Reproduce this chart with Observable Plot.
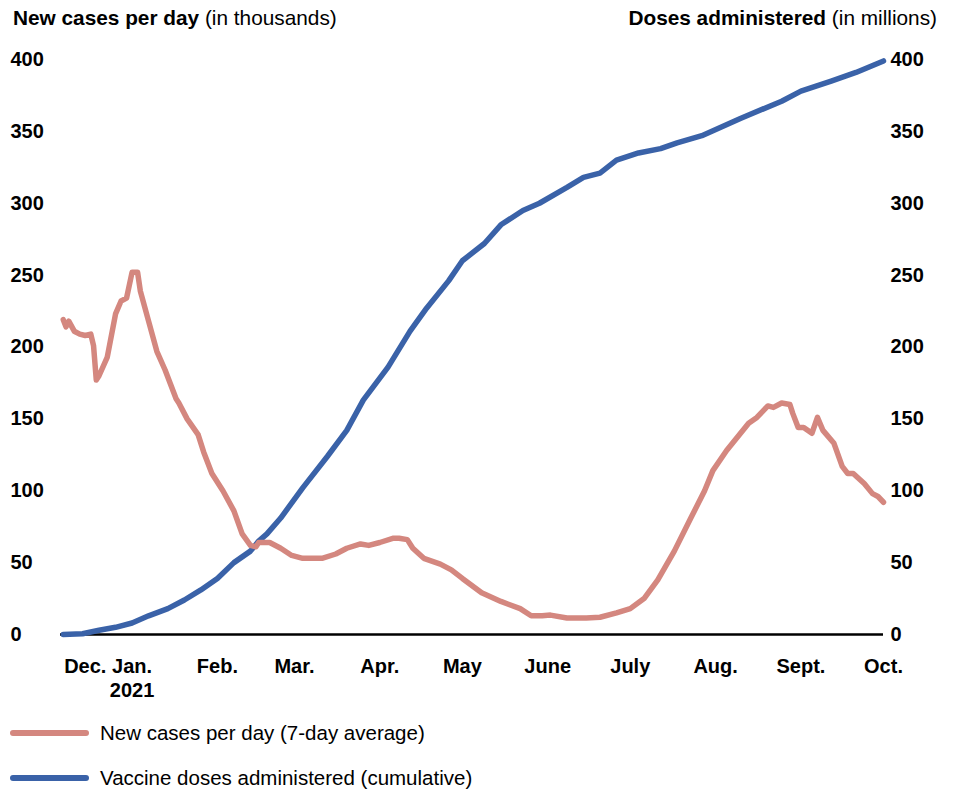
<!DOCTYPE html>
<html>
<head>
<meta charset="utf-8">
<script src="https://cdn.jsdelivr.net/npm/d3@7"></script>
<script src="https://cdn.jsdelivr.net/npm/@observablehq/plot@0.6"></script>
<style>
  body { margin: 0; background: #fff; font-family: "Liberation Sans", Arial, sans-serif; color: #000; }
  #wrap { position: relative; width: 956px; }
  .hdr { position: relative; height: 40px; font-size: 20.8px; }
  .hdr .l { position: absolute; left: 13px; top: 6px; }
  .hdr .r { position: absolute; right: 19px; top: 6px; }
  .legend { font-size: 20.5px; }
  .legend .row { display: flex; align-items: center; height: 45px; }
  .legend svg { display: block; }
  .legend span { margin-left: 10px; }
</style>
</head>
<body>
<div id="wrap">
  <div class="hdr">
    <div class="l"><b>New cases per day</b> (in thousands)</div>
    <div class="r"><b>Doses administered</b> (in millions)</div>
  </div>
  <div id="chart"></div>
  <div class="legend" id="legend"></div>
</div>
<script>
// New cases per day (7-day average), thousands
const caseDates = ["2020-12-07","2020-12-08","2020-12-09","2020-12-11","2020-12-13","2020-12-15","2020-12-17","2020-12-18","2020-12-19","2020-12-20","2020-12-23","2020-12-26","2020-12-28","2020-12-30","2021-01-01","2021-01-03","2021-01-04","2021-01-07","2021-01-10","2021-01-13","2021-01-17","2021-01-18","2021-01-21","2021-01-25","2021-01-27","2021-01-30","2021-02-03","2021-02-07","2021-02-10","2021-02-13","2021-02-15","2021-02-16","2021-02-20","2021-02-24","2021-02-28","2021-03-04","2021-03-08","2021-03-11","2021-03-16","2021-03-20","2021-03-25","2021-03-28","2021-04-01","2021-04-06","2021-04-08","2021-04-11","2021-04-13","2021-04-17","2021-04-23","2021-04-27","2021-05-01","2021-05-08","2021-05-15","2021-05-22","2021-05-26","2021-05-30","2021-06-02","2021-06-08","2021-06-15","2021-06-20","2021-06-26","2021-07-01","2021-07-06","2021-07-11","2021-07-17","2021-07-23","2021-07-28","2021-07-31","2021-08-05","2021-08-13","2021-08-16","2021-08-20","2021-08-22","2021-08-25","2021-08-28","2021-08-29","2021-08-31","2021-09-02","2021-09-05","2021-09-07","2021-09-09","2021-09-13","2021-09-16","2021-09-18","2021-09-20","2021-09-24","2021-09-27","2021-09-29","2021-10-01"];
const caseValues = [219,214,218,211,209,208,209,201,177,180,193,223,232,234,252,252,239,218,197,184,164,161,150,139,127,112,100,86,70,62,61,64,64,60,55,53,53,53,56,60,63,62,64,67,67,66,60,53,49,45,39,29,23,18,13,13,13.5,11.5,11.5,12,15,18,25,38,58,81,100,114,128,147,151,159,158,161,160,154,144,144,140,151,142,133,117,112,112,105,98,96,92];

// Vaccine doses administered (cumulative), millions
const doseDates = ["2020-12-07","2020-12-14","2020-12-20","2020-12-26","2021-01-01","2021-01-07","2021-01-14","2021-01-20","2021-01-26","2021-02-01","2021-02-07","2021-02-13","2021-02-16","2021-02-19","2021-02-24","2021-03-04","2021-03-13","2021-03-20","2021-03-26","2021-04-04","2021-04-12","2021-04-18","2021-04-26","2021-05-01","2021-05-09","2021-05-15","2021-05-23","2021-05-29","2021-06-08","2021-06-14","2021-06-20","2021-06-26","2021-07-04","2021-07-12","2021-07-18","2021-07-27","2021-08-10","2021-08-25","2021-09-01","2021-09-12","2021-09-21","2021-10-01"];
const doseValues = [0,0.5,3,5,8,13,18,24,31,39,50,58,65,70,81,102,124,142,163,186,211,227,246,260,272,285,295,300,311,318,321,330,335,338,342,347,359,371,378,385,391,399];

const tickDates = ["2020-12-15","2021-01-01","2021-02-01","2021-03-01","2021-04-01","2021-05-01","2021-06-01","2021-07-01","2021-08-01","2021-09-01","2021-10-01"];
const tickLabels = ["Dec.","Jan.\n2021","Feb.","Mar.","Apr.","May","June","July","Aug.","Sept.","Oct."];
const yTicks = [0,50,100,150,200,250,300,350,400];

const seriesNames = ["New cases per day (7-day average)","Vaccine doses administered (cumulative)"];
const seriesColors = ["#d4877f","#3a62a8"];

const cases = caseDates.map((d,i) => ({date: new Date(d), value: caseValues[i]}));
const doses = doseDates.map((d,i) => ({date: new Date(d), value: doseValues[i]}));
const tickTimes = tickDates.map(d => new Date(d));
const labelByTime = new Map(tickTimes.map((d,i) => [+d, tickLabels[i]]));

const chart = Plot.plot({
  width: 956,
  height: 670,
  marginLeft: 60,
  marginRight: 73,
  marginTop: 19,
  marginBottom: 76,
  style: {fontFamily: "'Liberation Sans', Arial, sans-serif", fontSize: "20px", fontWeight: "bold", color: "#000", background: "#fff", overflow: "visible"},
  x: {type: "utc", domain: [new Date("2020-12-06"), new Date("2021-10-01")]},
  y: {domain: [0, 400]},
  marks: [
    Plot.ruleY([0], {stroke: "#000", strokeWidth: 2.5}),
    Plot.line(doses, {x: "date", y: "value", stroke: seriesColors[1], strokeWidth: 5.5, strokeLinejoin: "round", strokeLinecap: "round"}),
    Plot.line(cases, {x: "date", y: "value", stroke: seriesColors[0], strokeWidth: 5.5, strokeLinejoin: "round", strokeLinecap: "round"}),
    Plot.axisY(yTicks, {anchor: "left", tickSize: 0, tickPadding: 3, dx: -47, textAnchor: "start", label: null}),
    Plot.axisY(yTicks, {anchor: "right", tickSize: 0, tickPadding: 3, dx: 4, label: null}),
    Plot.axisX(tickTimes, {anchor: "bottom", tickSize: 0, tickPadding: 21, tickFormat: d => labelByTime.get(+d), lineHeight: 1.2, label: null})
  ]
});
document.getElementById("chart").appendChild(chart);

const legend = document.getElementById("legend");
seriesNames.forEach((name, i) => {
  const row = document.createElement("div");
  row.className = "row";
  row.innerHTML = `<svg width="90" height="10"><line x1="13" y1="5" x2="86" y2="5" stroke="${seriesColors[i]}" stroke-width="6" stroke-linecap="round"/></svg><span>${name}</span>`;
  legend.appendChild(row);
});
</script>
</body>
</html>
